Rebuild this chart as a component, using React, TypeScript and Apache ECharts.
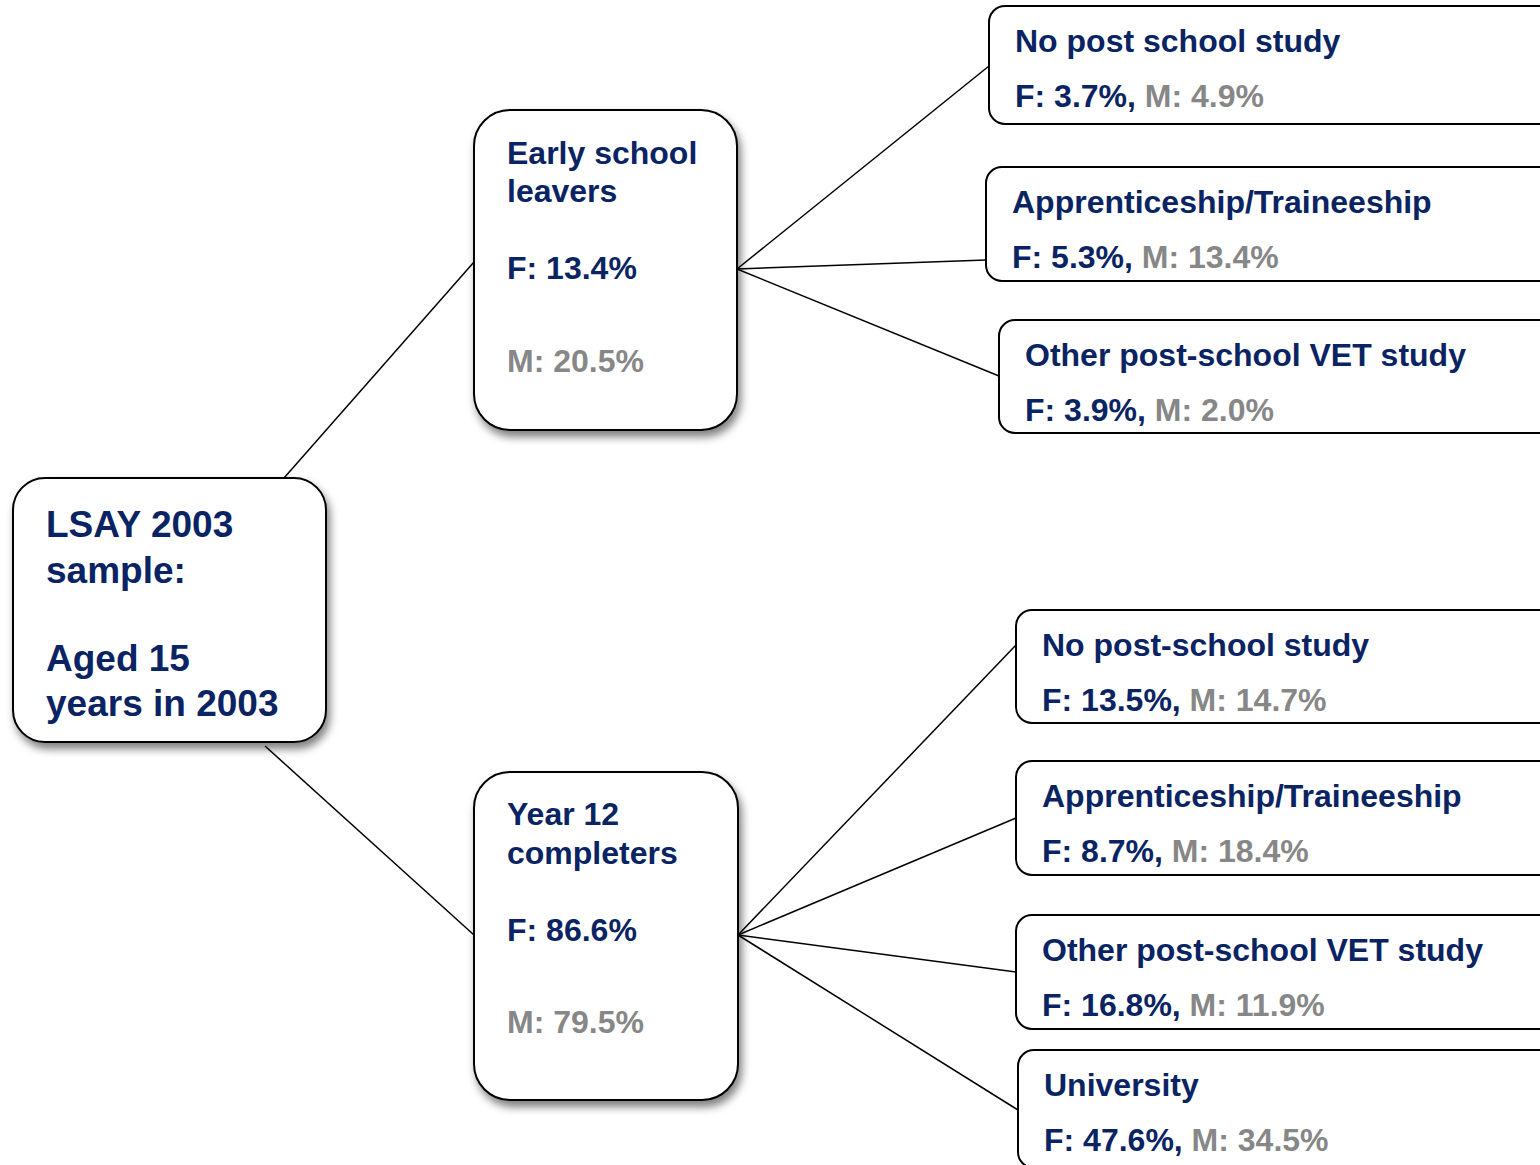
import React, { useEffect, useRef } from "react";
import * as echarts from "echarts";

// ---- Data ----
const rootLines = ["LSAY 2003", "sample:", "", "Aged 15", "years in 2003"];
const stageNames = [["Early school", "leavers"], ["Year 12", "completers"]];
const stageF = [13.4, 86.6];
const stageM = [20.5, 79.5];
const outcomeNames = [
  "No post school study",
  "Apprenticeship/Traineeship",
  "Other post-school VET study",
  "No post-school study",
  "Apprenticeship/Traineeship",
  "Other post-school VET study",
  "University",
];
const outcomeStage = [0, 0, 0, 1, 1, 1, 1];
const outcomeF = [3.7, 5.3, 3.9, 13.5, 8.7, 16.8, 47.6];
const outcomeM = [4.9, 13.4, 2.0, 14.7, 18.4, 11.9, 34.5];

// ---- Layout ----
const NAVY = "#0a2463";
const GREY = "#878787";
const FONT = "'Liberation Sans', Arial, sans-serif";
const rootBox = { x: 13, y: 478, w: 313, h: 264, r: 32 };
const rootLineY = [524, 570, 614, 658, 703];
const stageBoxes = [
  { x: 474, y: 110, w: 263, h: 320, r: 36 },
  { x: 474, y: 772, w: 264, h: 328, r: 36 },
];
const stageTextY = [
  [153, 191, 268, 361],
  [814, 853, 930, 1022],
];
const stageLinkIn = [
  { x1: 284, y1: 478, x2: 474, y2: 262 },
  { x1: 265, y1: 746, x2: 474, y2: 935 },
];
const stageOut = [
  { x: 737, y: 269 },
  { x: 738, y: 935 },
];
const outcomeLeft = [989, 986, 999, 1016, 1016, 1016, 1018];
const outcomeTop = [6, 167, 320, 610, 761, 915, 1050];
const outcomeH = [118, 114, 113, 113, 114, 114, 118];
const outcomeLinkY = [66, 260, 376, 645, 818, 972, 1110];

function fmt(v: number) {
  return v.toFixed(1) + "%";
}

export default function App() {
  const ref = useRef<HTMLDivElement>(null);
  useEffect(() => {
    if (!ref.current) return;
    const chart = echarts.init(ref.current, null, { renderer: "svg" });
    const els: any[] = [];
    const lineStyle = { stroke: "#000", lineWidth: 1.5 };
    const shadow = {
      shadowBlur: 8,
      shadowOffsetX: 3,
      shadowOffsetY: 6,
      shadowColor: "rgba(0,0,0,0.5)",
    };

    // links
    stageLinkIn.forEach((l) => {
      els.push({ type: "line", shape: l, style: lineStyle, z: 1 });
    });
    outcomeNames.forEach((_, i) => {
      const s = stageOut[outcomeStage[i]];
      els.push({
        type: "line",
        shape: { x1: s.x, y1: s.y, x2: outcomeLeft[i], y2: outcomeLinkY[i] },
        style: lineStyle,
        z: 1,
      });
    });

    // root
    els.push({
      type: "rect",
      shape: { x: rootBox.x, y: rootBox.y, width: rootBox.w, height: rootBox.h, r: rootBox.r },
      style: { fill: "#fff", stroke: "#000", lineWidth: 2, ...shadow },
      z: 2,
    });
    rootLines.forEach((t, i) => {
      if (!t) return;
      els.push({
        type: "text",
        x: 46,
        y: rootLineY[i],
        z: 3,
        style: {
          text: t,
          fill: NAVY,
          font: `bold 37px ${FONT}`,
          verticalAlign: "middle",
        },
      });
    });

    // stages
    stageBoxes.forEach((b, k) => {
      els.push({
        type: "rect",
        shape: { x: b.x, y: b.y, width: b.w, height: b.h, r: b.r },
        style: { fill: "#fff", stroke: "#000", lineWidth: 2, ...shadow },
        z: 2,
      });
      const ys = stageTextY[k];
      const texts = [
        [stageNames[k][0], NAVY],
        [stageNames[k][1], NAVY],
        ["F: " + fmt(stageF[k]), NAVY],
        ["M: " + fmt(stageM[k]), GREY],
      ];
      texts.forEach(([t, c], i) => {
        els.push({
          type: "text",
          x: 507,
          y: ys[i],
          z: 3,
          style: {
            text: t,
            fill: c,
            font: `bold 32px ${FONT}`,
            verticalAlign: "middle",
          },
        });
      });
    });

    // outcomes
    outcomeNames.forEach((name, i) => {
      const x = outcomeLeft[i];
      const y = outcomeTop[i];
      els.push({
        type: "rect",
        shape: { x, y, width: 620, height: outcomeH[i], r: 16 },
        style: { fill: "#fff", stroke: "#000", lineWidth: 2 },
        z: 2,
      });
      els.push({
        type: "text",
        x: x + 26,
        y: y + 35,
        z: 3,
        style: {
          text: name,
          fill: NAVY,
          font: `bold 32px ${FONT}`,
          verticalAlign: "middle",
        },
      });
      els.push({
        type: "text",
        x: x + 26,
        y: y + 90,
        z: 3,
        style: {
          text: `{f|F: ${fmt(outcomeF[i])},} {m|M: ${fmt(outcomeM[i])}}`,
          font: `bold 32px ${FONT}`,
          verticalAlign: "middle",
          rich: {
            f: { fill: NAVY, fontSize: 32, fontWeight: "bold", fontFamily: FONT },
            m: { fill: GREY, fontSize: 32, fontWeight: "bold", fontFamily: FONT },
          },
        },
      });
    });

    chart.setOption({
      animation: false,
      backgroundColor: "#fff",
      graphic: { elements: els },
    });
    return () => chart.dispose();
  }, []);
  return (
    <div
      ref={ref}
      style={{ position: "fixed", left: 0, top: 0, width: 1540, height: 1165 }}
    />
  );
}
